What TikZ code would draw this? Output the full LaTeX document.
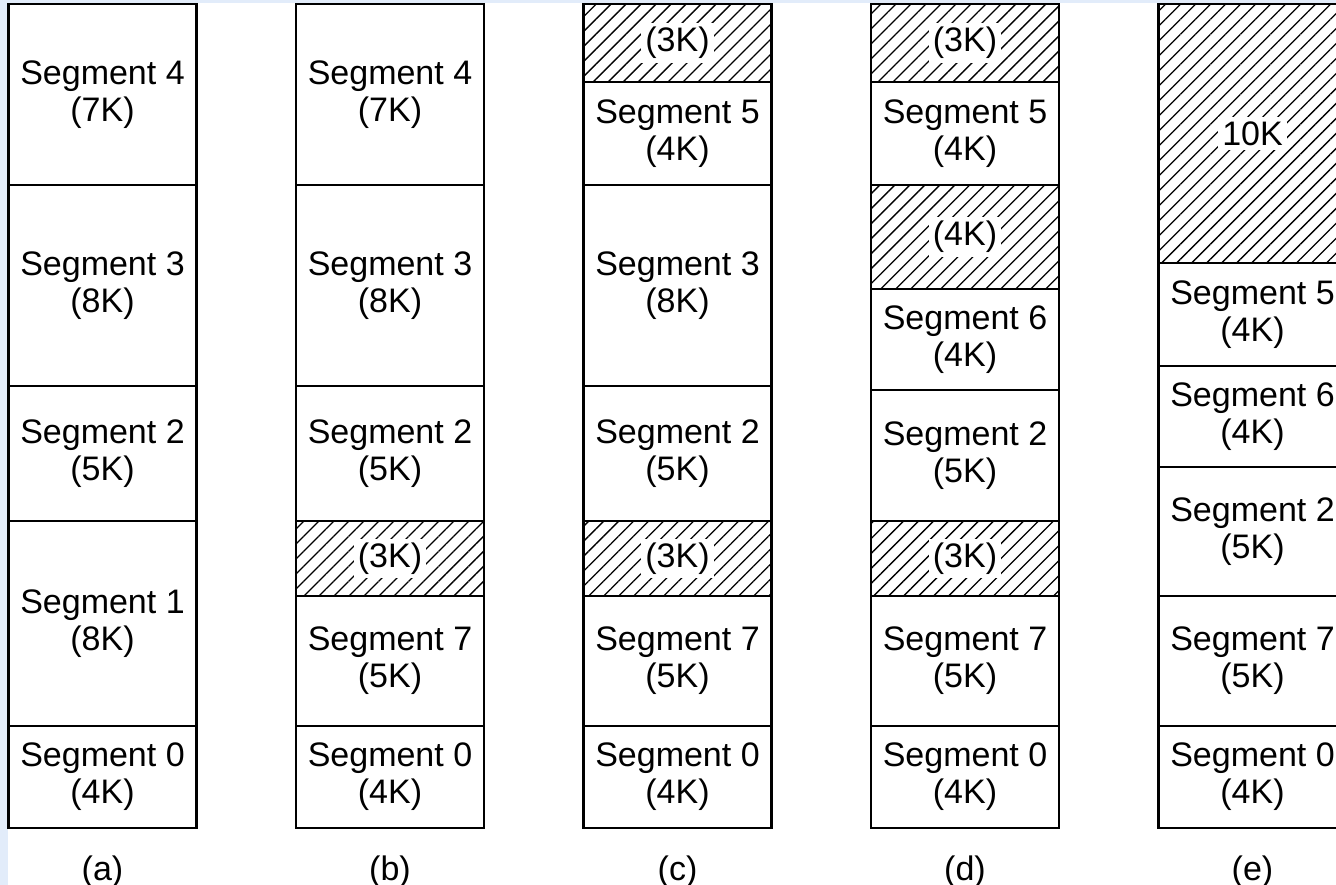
\documentclass[tikz,border=0pt]{standalone}
\usepackage{fontspec}
\setmainfont{Liberation Sans}
\usetikzlibrary{patterns.meta}
\definecolor{edgeblue}{RGB}{226,236,250}
\newcommand{\segfont}{\fontsize{34}{37}\selectfont}
\tikzset{
  seg/.style={draw=black, line width=2.6pt, minimum width=188pt, inner sep=0pt, align=center, font=\segfont},
  hole/.style={seg, pattern={Lines[angle=45,distance=10.6pt,line width=1.3pt]}},
  holetext/.style={fill=white, inner sep=4pt, font=\segfont},
  captext/.style={font=\segfont, anchor=base},
}
\begin{document}
\begin{tikzpicture}[x=1pt,y=-1pt]
\fill[white] (0,0) rectangle (1336,885);
\fill[edgeblue] (0,0) rectangle (8,885);
\fill[edgeblue] (0,0) rectangle (1336,3);
\useasboundingbox (0,0) rectangle (1336,885);
\clip (0,0) rectangle (1336,885);

% column (a)
\node[seg, minimum height=181pt] (a4) at (102.5,94.5) {Segment 4\\(7K)};
\node[seg, minimum height=201pt] (a3) at (102.5,285.5) {Segment 3\\(8K)};
\node[seg, minimum height=135pt] (a2) at (102.5,453.5) {Segment 2\\(5K)};
\node[seg, minimum height=205pt] (a1) at (102.5,623.5) {Segment 1\\(8K)};
\node[seg, minimum height=102pt] (a0) at (102.5,777) {Segment 0\\(4K)};
\node[captext] (la) at (102.5,880) {(a)};

% column (b)
\node[seg, minimum height=181pt] (b4) at (390,94.5) {Segment 4\\(7K)};
\node[seg, minimum height=201pt] (b3) at (390,285.5) {Segment 3\\(8K)};
\node[seg, minimum height=135pt] (b2) at (390,453.5) {Segment 2\\(5K)};
\node[hole, minimum height=75pt] (bh) at (390,558.5) {};
\node[holetext] (bht) at (bh.center) {(3K)};
\node[seg, minimum height=130pt] (b7) at (390,661) {Segment 7\\(5K)};
\node[seg, minimum height=102pt] (b0) at (390,777) {Segment 0\\(4K)};
\node[captext] (lb) at (390,880) {(b)};

% column (c)
\node[hole, minimum height=78pt] (ch1) at (677.5,43) {};
\node[holetext] (ch1t) at (ch1.center) {(3K)};
\node[seg, minimum height=103pt] (c5) at (677.5,133.5) {Segment 5\\(4K)};
\node[seg, minimum height=201pt] (c3) at (677.5,285.5) {Segment 3\\(8K)};
\node[seg, minimum height=135pt] (c2) at (677.5,453.5) {Segment 2\\(5K)};
\node[hole, minimum height=75pt] (ch2) at (677.5,558.5) {};
\node[holetext] (ch2t) at (ch2.center) {(3K)};
\node[seg, minimum height=130pt] (c7) at (677.5,661) {Segment 7\\(5K)};
\node[seg, minimum height=102pt] (c0) at (677.5,777) {Segment 0\\(4K)};
\node[captext] (lc) at (677.5,880) {(c)};

% column (d)
\node[hole, minimum height=78pt] (dh1) at (965,43) {};
\node[holetext] (dh1t) at (dh1.center) {(3K)};
\node[seg, minimum height=103pt] (d5) at (965,133.5) {Segment 5\\(4K)};
\node[hole, minimum height=104pt] (dh2) at (965,237) {};
\node[holetext] (dh2t) at (dh2.center) {(4K)};
\node[seg, minimum height=101pt] (d6) at (965,339.5) {Segment 6\\(4K)};
\node[seg, minimum height=131pt] (d2) at (965,455.5) {Segment 2\\(5K)};
\node[hole, minimum height=75pt] (dh3) at (965,558.5) {};
\node[holetext] (dh3t) at (dh3.center) {(3K)};
\node[seg, minimum height=130pt] (d7) at (965,661) {Segment 7\\(5K)};
\node[seg, minimum height=102pt] (d0) at (965,777) {Segment 0\\(4K)};
\node[captext] (ld) at (965,880) {(d)};

% column (e)
\node[hole, minimum height=259pt] (eh) at (1252.5,133.5) {};
\node[holetext] (eht) at (eh.center) {10K};
\node[seg, minimum height=103pt] (e5) at (1252.5,314.5) {Segment 5\\(4K)};
\node[seg, minimum height=101pt] (e6) at (1252.5,416.5) {Segment 6\\(4K)};
\node[seg, minimum height=129pt] (e2) at (1252.5,531.5) {Segment 2\\(5K)};
\node[seg, minimum height=130pt] (e7) at (1252.5,661) {Segment 7\\(5K)};
\node[seg, minimum height=102pt] (e0) at (1252.5,777) {Segment 0\\(4K)};
\node[captext] (le) at (1252.5,880) {(e)};
\end{tikzpicture}
\end{document}
